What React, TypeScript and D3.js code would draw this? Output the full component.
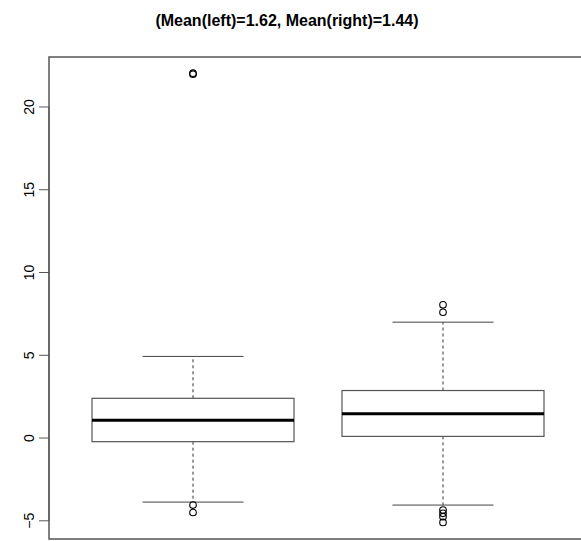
import React from "react";
import { scaleLinear } from "d3";

// box statistics
const groups = ["left", "right"];
const lowerWhisker = [-3.87, -4.05];
const q1 = [-0.22, 0.1];
const median = [1.08, 1.47];
const q3 = [2.4, 2.87];
const upperWhisker = [4.93, 7.0];
const outliersLeft = [21.98, 22.04, -4.05, -4.5];
const outliersRight = [8.05, 7.6, -4.35, -4.55, -4.75, -5.1];
const yTicks = [-5, 0, 5, 10, 15, 20];
const title = "(Mean(left)=1.62, Mean(right)=1.44)";

const W = 581;
const H = 541;
const plot = { left: 49, right: 587, top: 57, bottom: 539 };

export default function App() {
  const x = scaleLinear().domain([0.424, 2.576]).range([plot.left, plot.right]);
  const y = scaleLinear().domain([-6.1, 23.02]).range([plot.bottom, plot.top]);
  const outliers = [outliersLeft, outliersRight];
  const font = "'Liberation Sans', Arial, Helvetica, sans-serif";
  const boxStroke = "#555";

  return (
    <div style={{ position: "absolute", left: 0, top: 0 }}>
      <svg width={W} height={H} style={{ display: "block", background: "white" }}>
        <text
          x={287}
          y={26}
          textAnchor="middle"
          style={{ fontFamily: font, fontWeight: "bold", fontSize: "16px" }}
        >
          {title}
        </text>

        {groups.map((g, i) => {
          const cx = x(i + 1);
          const bx0 = x(i + 1 - 0.404);
          const bx1 = x(i + 1 + 0.404);
          const cx0 = x(i + 1 - 0.202);
          const cx1 = x(i + 1 + 0.202);
          return (
            <g key={g}>
              <line x1={cx} x2={cx} y1={y(q3[i])} y2={y(upperWhisker[i])}
                stroke="#333" strokeDasharray="3 3" />
              <line x1={cx} x2={cx} y1={y(q1[i])} y2={y(lowerWhisker[i])}
                stroke="#333" strokeDasharray="3 3" />
              <line x1={cx0} x2={cx1} y1={y(upperWhisker[i])} y2={y(upperWhisker[i])}
                stroke="#444" />
              <line x1={cx0} x2={cx1} y1={y(lowerWhisker[i])} y2={y(lowerWhisker[i])}
                stroke="#444" />
              <rect x={bx0} y={y(q3[i])} width={bx1 - bx0} height={y(q1[i]) - y(q3[i])}
                fill="white" stroke={boxStroke} strokeWidth={1.2} />
              <line x1={bx0} x2={bx1} y1={y(median[i])} y2={y(median[i])}
                stroke="black" strokeWidth={3} />
              {outliers[i].map((v, j) => (
                <circle key={j} cx={cx} cy={y(v)} r={3.3}
                  fill="none" stroke="black" strokeWidth={1.1} />
              ))}
            </g>
          );
        })}

        {/* plot frame */}
        <rect x={plot.left} y={plot.top} width={plot.right - plot.left}
          height={plot.bottom - plot.top} fill="none" stroke={boxStroke} strokeWidth={1.5} />

        {/* y axis */}
        <g>
          <line x1={plot.left} x2={plot.left} y1={y(-5)} y2={y(20)} stroke={boxStroke} />
          {yTicks.map((t) => (
            <g key={t} transform={`translate(0,${y(t)})`}>
              <line x1={plot.left - 10} x2={plot.left} stroke={boxStroke} />
              <text
                transform={`translate(34,0) rotate(-90)`}
                textAnchor="middle"
                style={{ fontFamily: font, fontSize: "14px" }}
              >
                {t < 0 ? "\u2212" + Math.abs(t) : t}
              </text>
            </g>
          ))}
        </g>
      </svg>
    </div>
  );
}
